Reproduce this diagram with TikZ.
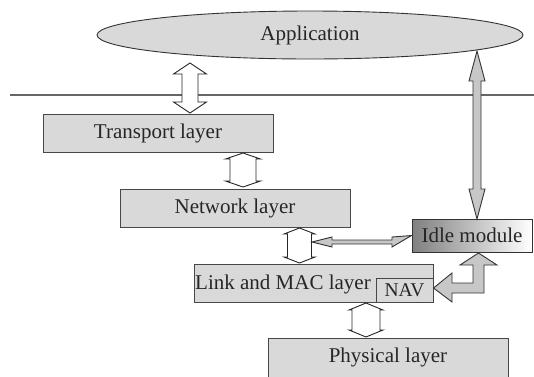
\documentclass[tikz,border=0pt]{standalone}
\usepackage{fontspec}
\setmainfont{Liberation Serif}
\usetikzlibrary{shapes.geometric}

% vertical double-headed block arrow: x, top tip y, bottom tip y,
% half shaft width, half head width, head length
\newcommand\vblockarrow[7][]{%
  \draw[#1] (#2,#3) -- (#2+#6,#3+#7) -- (#2+#5,#3+#7) -- (#2+#5,#4-#7)
    -- (#2+#6,#4-#7) -- (#2,#4) -- (#2-#6,#4-#7) -- (#2-#5,#4-#7)
    -- (#2-#5,#3+#7) -- (#2-#6,#3+#7) -- cycle;}

\begin{document}
\begin{tikzpicture}[x=1pt,y=-1pt,
  every node/.style={font=\fontsize{21}{24}\selectfont, text=black!85},
  layer/.style={draw=black!72, fill=black!15, line width=1pt, inner sep=0pt,
    rectangle},
  hollow/.style={draw=black!85, fill=white, line width=0.9pt, line join=miter},
  greyarrow/.style={draw=black!80, fill=black!22, line width=0.9pt, line join=miter}]
\useasboundingbox (0,0) rectangle (534,376);

% stack boundary
\draw[black!60, line width=1.1pt] (10,95) -- (534,95);

% application ellipse
\node[ellipse, draw=black!80, fill=black!15, line width=0.9pt, inner sep=0pt,
  minimum width=426pt, minimum height=48pt] (app) at (310,35) {Application};

% protocol layers
\node[layer, minimum width=230pt, minimum height=38pt] (trans) at (158,133) {Transport layer};
\node[layer, minimum width=230pt, minimum height=38pt] (net) at (235,208) {Network layer};
\node[layer, minimum width=239pt, minimum height=38pt] (link) at (313.5,283) {};
\node[anchor=west, inner sep=0pt] (linktxt) at (195,284) {Link and MAC layer};
\node[layer, anchor=south east, minimum width=57pt, minimum height=24pt] (nav)
  at (link.south east) {\fontsize{19.5}{22}\selectfont NAV};
\node[layer, minimum width=240pt, minimum height=39pt] (phys) at (388,357.5) {Physical layer};

% idle module with gradient fill
\node[draw=black!80, line width=1pt, left color=black!50, right color=white,
  minimum width=120pt, minimum height=33pt, inner sep=0pt] (idle) at (472,235.5) {Idle module};

% hollow inter-layer arrows
\vblockarrow[hollow]{190}{63}{113}{8}{16.5}{11}
\vblockarrow[hollow]{243}{153}{187}{13}{17.5}{6}
\vblockarrow[hollow]{299.5}{228}{263}{12}{15.5}{6}
\vblockarrow[hollow]{366}{303}{337}{14}{17}{7}

% application <-> idle module
\vblockarrow[greyarrow]{477}{51}{219}{4}{8}{30}

% link layer <-> idle module
\draw[greyarrow] (312,242) -- (332,237) -- (332,240) -- (392,240) -- (392,237)
  -- (idle.west) -- (392,247) -- (392,244) -- (332,244) -- (332,247) -- cycle;

% idle module -> NAV elbow arrow
\draw[greyarrow] (478.5,253) -- (497,265) -- (484,265) -- (484,293) -- (452,293)
  -- (452,302) -- (nav.east |- 0,288) -- (452,273) -- (452,283) -- (473,283)
  -- (473,265) -- (460,265) -- cycle;
\end{tikzpicture}
\end{document}
